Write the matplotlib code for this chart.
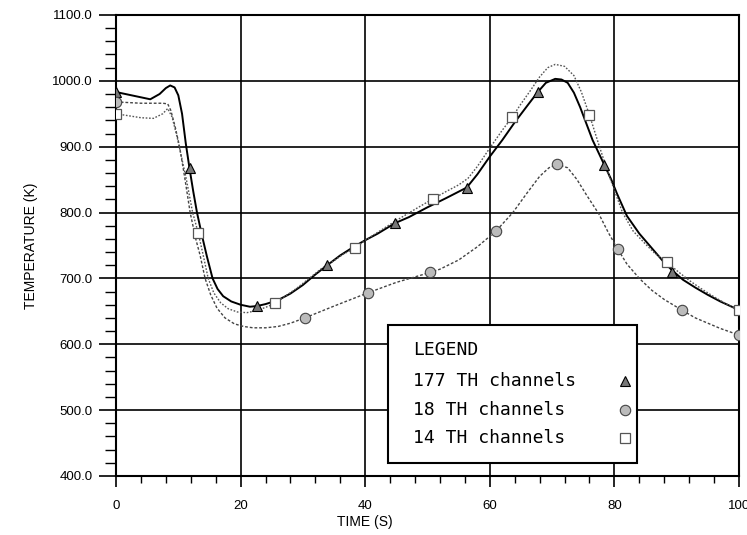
import matplotlib
matplotlib.use("Agg")
import matplotlib.pyplot as plt
from matplotlib.patches import Rectangle
from matplotlib.ticker import MultipleLocator, FormatStrFormatter

# 177 TH channels (solid)
t_177 = [0, 2, 4, 5.5, 7, 8, 8.7, 9.4, 10.0, 10.6, 11.2, 11.8, 12.4, 13.0, 13.8, 14.6,
         15.5, 16.3, 17.2, 18.5, 20, 21.5, 22.6, 24, 26, 28, 30, 32, 33.9, 36, 38, 40,
         42, 44.8, 47, 50, 53, 56.3, 58, 60, 62, 64, 66, 67.7, 69, 70.5, 71.5, 72.5,
         73.5, 74.5, 75.5, 76.5, 77.5, 78.4, 79.5, 80.4, 82, 84, 86, 88, 89.3, 91, 93,
         95, 97, 100]
T_177 = [983, 979, 975, 972, 980, 989, 993, 990, 978, 950, 905, 867, 832, 800, 765, 733,
         700, 684, 673, 665, 660, 657, 658, 661, 667, 677, 690, 706, 720, 735, 747, 758,
         768, 784, 793, 808, 822, 838, 858, 885, 910, 937, 962, 983, 997, 1003, 1002, 997,
         982, 960, 935, 910, 890, 872, 850, 829, 795, 768, 746, 724, 712, 698, 686,
         675, 665, 652]

# 18 TH channels (dotted, lowest)
t_18 = [0, 2, 4, 6, 7.5, 8.3, 8.8, 9.5, 10.2, 11.0, 11.9, 12.8, 13.5, 14.3, 15.2, 16.2,
        17.5, 19, 20.5, 22, 24, 26, 28, 30.3, 35, 40.4, 45, 50.4, 52, 55, 58, 61, 63.7,
        66, 68, 69.5, 70.8, 72.5, 74, 75.5, 77.5, 79, 80.5, 82, 84, 86, 88, 90.8, 93,
        95, 97, 100]
T_18 = [968, 967, 966, 966, 966, 965, 955, 930, 900, 855, 800, 760, 735, 700, 675, 655,
        640, 631, 627, 625, 625, 627, 632, 640, 658, 678, 694, 709, 714, 728, 748, 772, 800,
        830, 855, 868, 873, 868, 850, 827, 798, 770, 745, 722, 700, 682, 668, 652, 640,
        632, 624, 614]

# 14 TH channels (dotted, highest peak)
t_14 = [0, 2, 4, 6, 7.5, 8.3, 9.0, 9.8, 10.5, 11.3, 12.3, 13.2, 14.0, 14.8, 15.7, 16.8,
        18, 19.5, 21, 22.5, 24, 25.5, 27, 29, 31, 33, 35, 36.5, 38.4, 40, 42, 45, 48,
        50.9, 53, 55, 56.5, 58, 60, 62, 63.6, 65, 66.5, 68, 69.3, 70.5, 72, 73.5, 74.7,
        76, 77.6, 79, 81.3, 83, 85, 86.5, 88.4, 90, 92, 94, 96, 98, 100]
T_14 = [950, 947, 944, 943, 950, 958, 945, 915, 885, 850, 800, 769, 735, 700, 678, 663,
        654, 649, 648, 651, 656, 662, 672, 685, 700, 715, 727, 737, 746, 758, 770, 788, 805,
        821, 832, 842, 852, 870, 898, 925, 945, 965, 985, 1006, 1020, 1025, 1022, 1008, 983,
        948, 900, 860, 800, 772, 752, 738, 725, 712, 697, 684, 672, 661, 652]

# symbol positions
mk_t_177 = [0, 11.8, 22.6, 33.9, 44.8, 56.3, 67.7, 78.4, 89.3]
mk_T_177 = [983, 867, 658, 720, 784, 838, 983, 872, 710]
mk_t_18 = [0, 30.3, 40.4, 50.4, 61, 70.8, 80.5, 90.8, 100]
mk_T_18 = [968, 640, 678, 709, 772, 873, 745, 652, 614]
mk_t_14 = [0, 13.2, 25.5, 38.4, 50.9, 63.6, 76.0, 88.4, 100]
mk_T_14 = [950, 769, 662, 746, 821, 945, 948, 725, 652]

legend_labels = ["177 TH channels", "18 TH channels", "14 TH channels"]

fig = plt.figure(figsize=(7.47, 5.35), dpi=100)
ax = fig.add_axes([0.1553, 0.1103, 0.834, 0.8617])

ax.plot(t_177, T_177, color="black", lw=1.4, zorder=3)
ax.plot(t_18, T_18, color="#444444", lw=1.0, dashes=(2, 1.4), zorder=3)
ax.plot(t_14, T_14, color="#555555", lw=1.0, dashes=(1.2, 1.2), zorder=3)

tri = dict(marker="^", ms=7, mfc="#777777", mec="black", mew=0.8, ls="none", zorder=4)
cir = dict(marker="o", ms=7.5, mfc="#bbbbbb", mec="#444444", mew=0.8, ls="none", zorder=4)
sqr = dict(marker="s", ms=6.5, mfc="white", mec="#555555", mew=0.9, ls="none", zorder=4)
ax.plot(mk_t_177, mk_T_177, **tri)
ax.plot(mk_t_18, mk_T_18, **cir)
ax.plot(mk_t_14, mk_T_14, **sqr)

ax.set_xlim(0, 100)
ax.set_ylim(400, 1100)
ax.xaxis.set_major_locator(MultipleLocator(20))
ax.xaxis.set_minor_locator(MultipleLocator(4))
ax.yaxis.set_major_locator(MultipleLocator(100))
ax.yaxis.set_minor_locator(MultipleLocator(20))
ax.yaxis.set_major_formatter(FormatStrFormatter("%.1f"))

ax.grid(True, which="major", color="black", lw=1.2, zorder=1)
ax.set_axisbelow(True)
for s in ax.spines.values():
    s.set_linewidth(1.5)

ax.tick_params(axis="y", which="major", direction="out", length=12, width=1.2, pad=5,
               labelsize=9.5)
ax.tick_params(axis="y", which="minor", direction="out", length=8, width=1.0)
ax.tick_params(axis="x", which="major", direction="out", length=8, width=1.2, pad=9,
               labelsize=9.5)
ax.tick_params(axis="x", which="minor", direction="out", length=5, width=1.0)
for lab in ax.get_xticklabels() + ax.get_yticklabels():
    lab.set_family("Liberation Sans")

ax.set_xlabel("TIME (S)", family="Liberation Sans", fontsize=10)
ax.xaxis.set_label_coords(0.40, -0.085)
ax.set_ylabel("TEMPERATURE (K)", family="Liberation Sans", fontsize=10)
ax.yaxis.set_label_coords(-0.125, 0.50)

# hand-drawn legend box
ax.add_patch(Rectangle((0.4366, 0.0282), 0.3997, 0.2993, transform=ax.transAxes,
                       facecolor="white", edgecolor="black", lw=1.5, zorder=5))
mono = dict(family="DejaVu Sans Mono", fontsize=13, va="center", ha="left",
            transform=ax.transAxes, zorder=6)
ax.text(0.4767, 0.2733, "LEGEND", **mono)
rows_y = [0.2061, 0.1432, 0.0824]
for lab, y, st in zip(legend_labels, rows_y, [tri, cir, sqr]):
    ax.text(0.4767, y, lab, **mono)
    kw = dict(st)
    kw["zorder"] = 6
    ax.plot([0.817], [y], transform=ax.transAxes, clip_on=False, **kw)

fig.savefig("out.png", dpi=100)
